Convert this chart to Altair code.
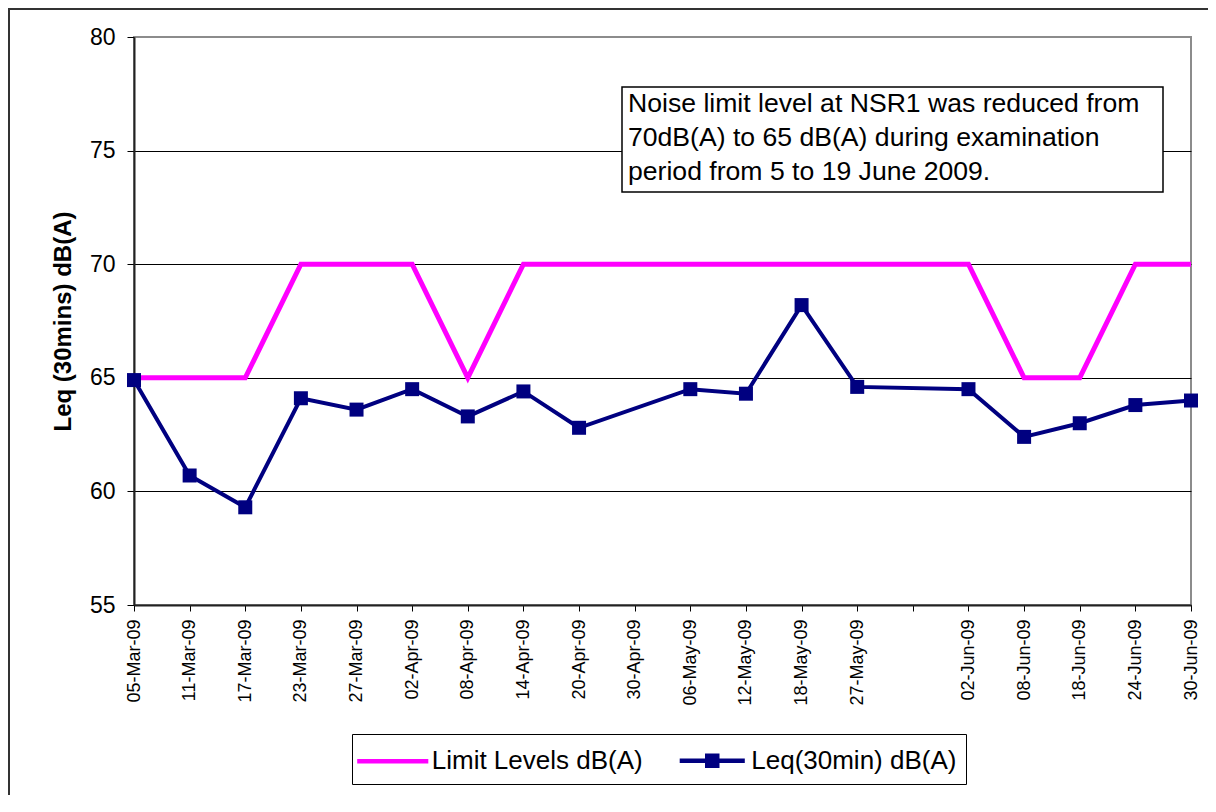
import json
import altair as alt
import pandas as pd

# ---- data ----
labels = ['05-Mar-09', '11-Mar-09', '17-Mar-09', '23-Mar-09', '27-Mar-09',
          '02-Apr-09', '08-Apr-09', '14-Apr-09', '20-Apr-09', '30-Apr-09',
          '06-May-09', '12-May-09', '18-May-09', '27-May-09', '',
          '02-Jun-09', '08-Jun-09', '18-Jun-09', '24-Jun-09', '30-Jun-09']
limit_levels = [65, 65, 65, 70, 70, 70, 65, 70, 70, 70,
                70, 70, 70, 70, 70, 70, 65, 65, 70, 70]
leq_values = [64.9, 60.7, 59.3, 64.1, 63.6, 64.5, 63.3, 64.4, 62.8, None,
              64.5, 64.3, 68.2, 64.6, None, 64.5, 62.4, 63.0, 63.8, 64.0]
series_names = ['Limit Levels dB(A)', 'Leq(30min) dB(A)']
series_colors = ['#FF00FF', '#000080']
y_ticks = [55, 60, 65, 70, 75, 80]
note_lines = ['Noise limit level at NSR1 was reduced from',
              '70dB(A) to 65 dB(A) during examination',
              'period from 5 to 19 June 2009.']

rows = []
for i, v in enumerate(limit_levels):
    rows.append({'idx': i, 'value': v, 'series': series_names[0]})
for i, v in enumerate(leq_values):
    if v is not None:
        rows.append({'idx': i, 'value': v, 'series': series_names[1]})
df = pd.DataFrame(rows)

FONT = 'Liberation Sans, Arial, sans-serif'
label_expr = json.dumps(labels) + '[datum.value]'

x_enc = alt.X('idx:Q',
              scale=alt.Scale(domain=[0, len(labels) - 1], nice=False, zero=False),
              axis=alt.Axis(values=list(range(len(labels))), labelExpr=label_expr,
                            labelAngle=270, labelFontSize=18, labelPadding=8,
                            tickSize=6, title=None, grid=False))
y_enc = alt.Y('value:Q',
              scale=alt.Scale(domain=[55, 80], nice=False, zero=False),
              axis=alt.Axis(values=y_ticks, title='Leq (30mins) dB(A)',
                            titleFontSize=24, titleFontWeight='bold',
                            titlePadding=14, labelFontSize=23, labelPadding=12,
                            tickSize=7, grid=True,
                            gridColor={'condition': {'test': 'datum.value === 80',
                                                     'value': '#8c8c8c'},
                                       'value': 'black'}))

base = alt.Chart(df)

limit_line = base.transform_filter(
    alt.datum.series == series_names[0]
).mark_line(color=series_colors[0], strokeWidth=5).encode(x=x_enc, y=y_enc)

leq_line = base.transform_filter(
    alt.datum.series == series_names[1]
).mark_line(color=series_colors[1], strokeWidth=4).encode(x=x_enc, y=y_enc)

leq_points = base.transform_filter(
    alt.datum.series == series_names[1]
).mark_point(shape='square', filled=True, size=196, opacity=1,
             color=series_colors[1]).encode(x=x_enc, y=y_enc)

# legend symbols: unit = 15 px (symbol size 900)
sym_line = 'M-2.37,0H2.37'
sym_marker = ('M-2.17,0H2.17M-0.333,-0.333H0.333V0.333H-0.333Z'
              'M-0.1,-0.1H0.1V0.1H-0.1Z')
legend = alt.Legend(title=None, orient='none', legendX=218, legendY=697,
                    direction='horizontal', strokeColor='black', fillColor='white',
                    padding=9, labelFontSize=26, labelFont=FONT, labelColor='black',
                    labelLimit=400, labelOffset=21.5, symbolOffset=14.25,
                    symbolSize=900, symbolStrokeWidth=4.5, symbolOpacity=1,
                    columnPadding=27.5)
legend_layer = base.transform_filter('false').mark_point(
    filled=False, strokeWidth=4.5, size=900, opacity=1
).encode(
    x=x_enc, y=y_enc,
    color=alt.Color('series:N', scale=alt.Scale(domain=series_names, range=series_colors),
                    legend=legend),
    shape=alt.Shape('series:N', scale=alt.Scale(domain=series_names,
                                                range=[sym_line, sym_marker]),
                    legend=legend),
)

one = pd.DataFrame({'k': [0]})
outer_border = alt.Chart(one).mark_rect(fill='white', fillOpacity=0, stroke='#333333',
                                        strokeWidth=2).encode(
    x=alt.value(-125), x2=alt.value(1400), y=alt.value(-28), y2=alt.value(900))
note_box = alt.Chart(one).mark_rect(fill='white', stroke='black', strokeWidth=1.5).encode(
    x=alt.value(488), x2=alt.value(1029), y=alt.value(50), y2=alt.value(155))
note_text = alt.Chart(one).mark_text(align='left', baseline='alphabetic', fontSize=26.6,
                                     lineHeight=34, font=FONT, color='black').encode(
    x=alt.value(494), y=alt.value(75), text=alt.value(note_lines))

chart = alt.layer(
    outer_border, limit_line, leq_line, leq_points, legend_layer, note_box, note_text
).properties(
    width=1057, height=568,
    autosize=alt.AutoSizeParams(type='none'),
    padding={'left': 126, 'top': 29, 'right': 17, 'bottom': 190},
).configure(font=FONT).configure_view(
    stroke='#8c8c8c', strokeWidth=2
).configure_axis(
    domainColor='#222222', domainWidth=2, tickColor='black', tickWidth=1,
    labelColor='black', titleColor='black', labelFont=FONT, titleFont=FONT,
    gridWidth=1
).configure_axisX(grid=False)

chart.save('out.html', embed_options={'renderer': 'svg', 'actions': False})
